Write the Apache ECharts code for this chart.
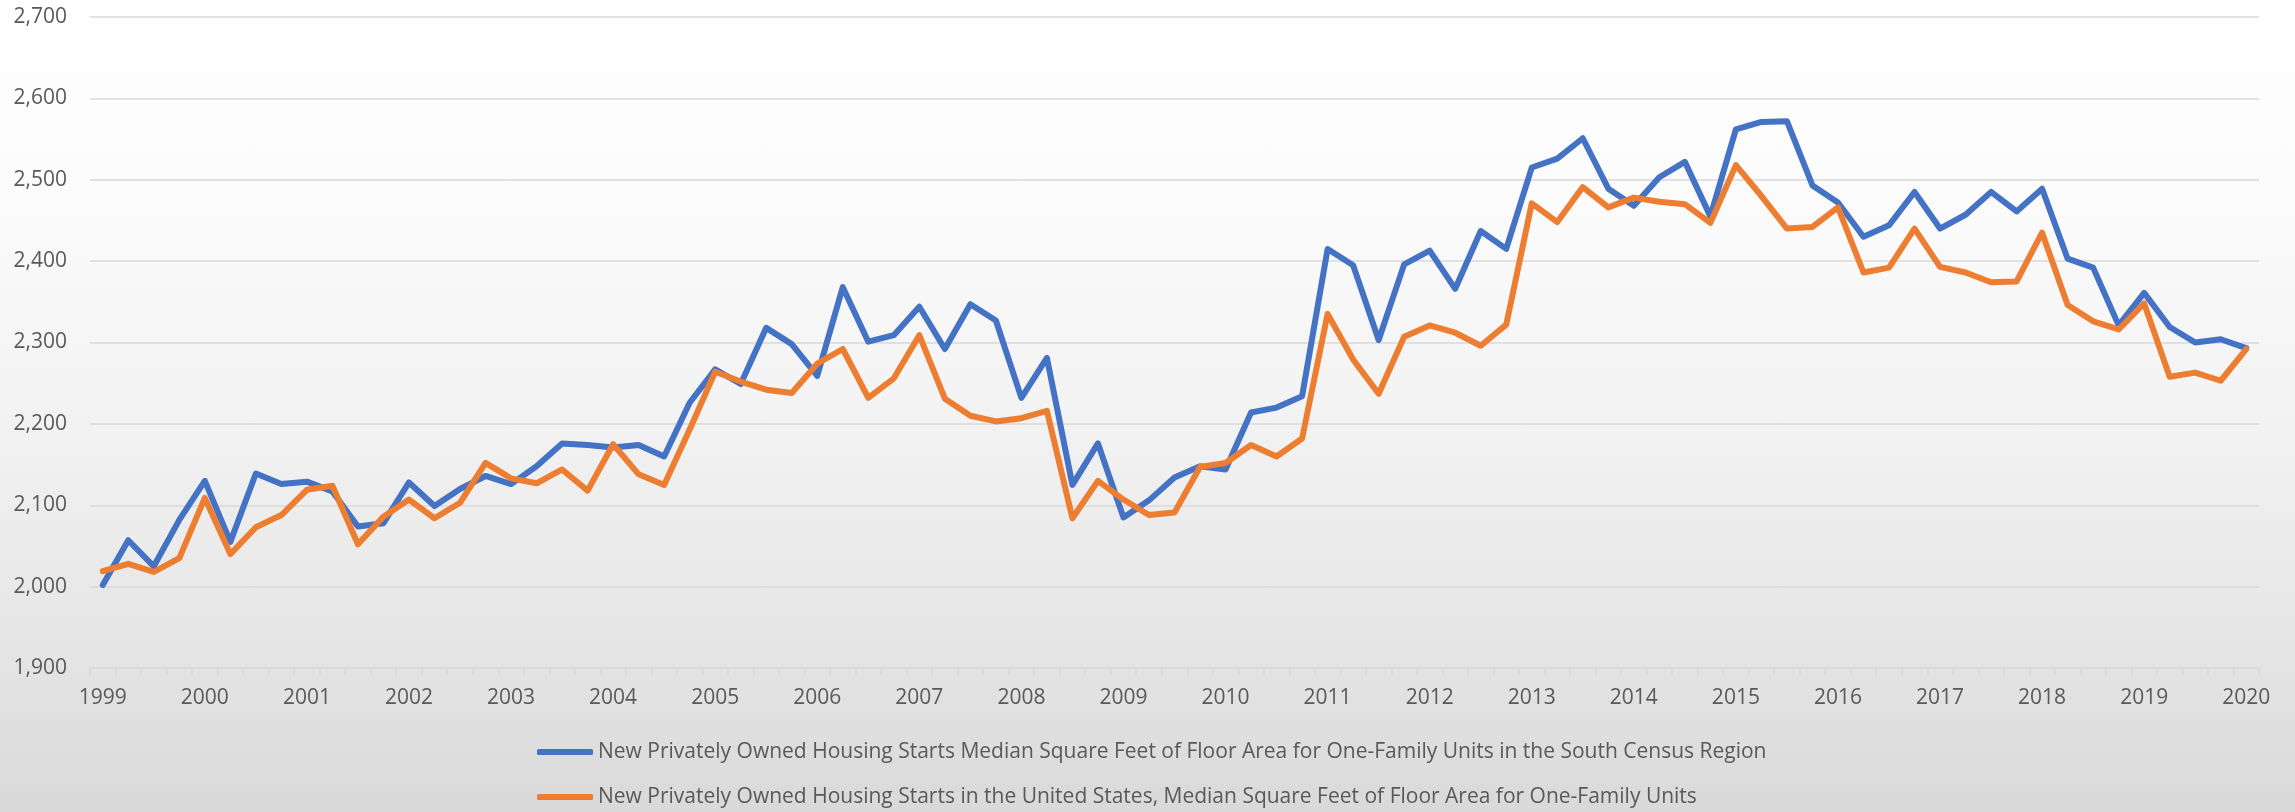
<!DOCTYPE html>
<html>
<head>
<meta charset="utf-8">
<script src="https://cdn.jsdelivr.net/npm/echarts@6/dist/echarts.min.js"></script>
<style>
  html, body { margin: 0; padding: 0; }
  #chart {
    width: 2295px;
    height: 812px;
    background: linear-gradient(to bottom, #ffffff 0%, #fbfbfb 25%, #f3f3f3 50%, #e6e6e6 78%, #d9d9d9 100%);
  }
</style>
</head>
<body>
<div id="chart"></div>
<script>
const years = ['1999', '2000', '2001', '2002', '2003', '2004', '2005', '2006', '2007', '2008', '2009',
  '2010', '2011', '2012', '2013', '2014', '2015', '2016', '2017', '2018', '2019', '2020'];

// quarterly categories, 1999 Q1 .. 2020 Q1
const quarters = [];
years.forEach(y => {
  ['Q1', 'Q2', 'Q3', 'Q4'].forEach(q => {
    if (y !== '2020' || q === 'Q1') quarters.push(y + ' ' + q);
  });
});

const southName = 'New Privately Owned Housing Starts Median Square Feet of Floor Area for One-Family Units in the South Census Region';
const usName = 'New Privately Owned Housing Starts in the United States, Median Square Feet of Floor Area for One-Family Units';

const southValues = [
  2002, 2057, 2025, 2082, 2130, 2055, 2139, 2126, 2129, 2117,
  2074, 2078, 2128, 2099, 2120, 2136, 2126, 2148, 2176, 2174,
  2171, 2174, 2160, 2226, 2267, 2249, 2318, 2298, 2259, 2368,
  2301, 2309, 2344, 2292, 2347, 2327, 2232, 2281, 2125, 2176,
  2085, 2106, 2134, 2148, 2144, 2214, 2220, 2234, 2415, 2395,
  2303, 2396, 2413, 2366, 2437, 2415, 2515, 2526, 2551, 2489,
  2468, 2503, 2522, 2455, 2562, 2571, 2572, 2493, 2472, 2430,
  2444, 2485, 2440, 2457, 2485, 2461, 2489, 2403, 2392, 2321,
  2361, 2319, 2300, 2304, 2293
];

const usValues = [
  2019, 2028, 2018, 2035, 2109, 2040, 2073, 2088, 2119, 2124,
  2052, 2086, 2107, 2084, 2103, 2152, 2133, 2127, 2144, 2118,
  2175, 2138, 2125, 2193, 2264, 2252, 2242, 2238, 2274, 2292,
  2232, 2256, 2309, 2231, 2210, 2203, 2207, 2216, 2084, 2130,
  2107, 2088, 2091, 2147, 2152, 2174, 2160, 2182, 2335, 2279,
  2237, 2307, 2321, 2312, 2296, 2322, 2471, 2448, 2491, 2466,
  2478, 2473, 2470, 2447, 2518, 2480, 2440, 2442, 2466, 2386,
  2392, 2440, 2393, 2386, 2374, 2375, 2435, 2346, 2326, 2316,
  2348, 2258, 2263, 2253, 2292
];

const textColor = '#595959';
const gridColor = '#d9d9d9';

const chart = echarts.init(document.getElementById('chart'), null, { renderer: 'canvas' });

chart.setOption({
  animation: false,
  textStyle: { fontFamily: 'Open Sans' },
  grid: { left: 90, right: 36, top: 17, bottom: 144, containLabel: false },
  legend: {
    orient: 'vertical',
    left: 537,
    top: 739,
    height: 200,
    padding: 0,
    itemWidth: 56,
    itemHeight: 6,
    itemGap: 19,
    icon: 'roundRect',
    textStyle: { color: textColor, fontSize: 21, lineHeight: 26, fontFamily: 'Open Sans' },
    data: [southName, usName]
  },
  xAxis: {
    type: 'category',
    data: quarters,
    boundaryGap: true,
    axisLine: { lineStyle: { color: gridColor, width: 1.5 } },
    axisTick: { show: true, interval: 0, length: 7, lineStyle: { color: gridColor, width: 1.5 } },
    axisLabel: {
      interval: 3,
      margin: 20,
      color: textColor,
      fontSize: 21,
      formatter: v => v.slice(0, 4)
    }
  },
  yAxis: {
    type: 'value',
    min: 1900,
    max: 2700,
    interval: 100,
    axisLine: { show: false },
    axisTick: { show: false },
    splitLine: { lineStyle: { color: gridColor, width: 1.5 } },
    axisLabel: {
      margin: 23,
      color: textColor,
      fontSize: 21,
      formatter: v => v.toLocaleString('en-US')
    }
  },
  series: [
    {
      name: southName,
      type: 'line',
      symbol: 'none',
      data: southValues,
      itemStyle: { color: '#4472C4' },
      lineStyle: { color: '#4472C4', width: 6, cap: 'round', join: 'round' }
    },
    {
      name: usName,
      type: 'line',
      symbol: 'none',
      data: usValues,
      itemStyle: { color: '#ED7D31' },
      lineStyle: { color: '#ED7D31', width: 6, cap: 'round', join: 'round' }
    }
  ]
});
</script>
</body>
</html>
